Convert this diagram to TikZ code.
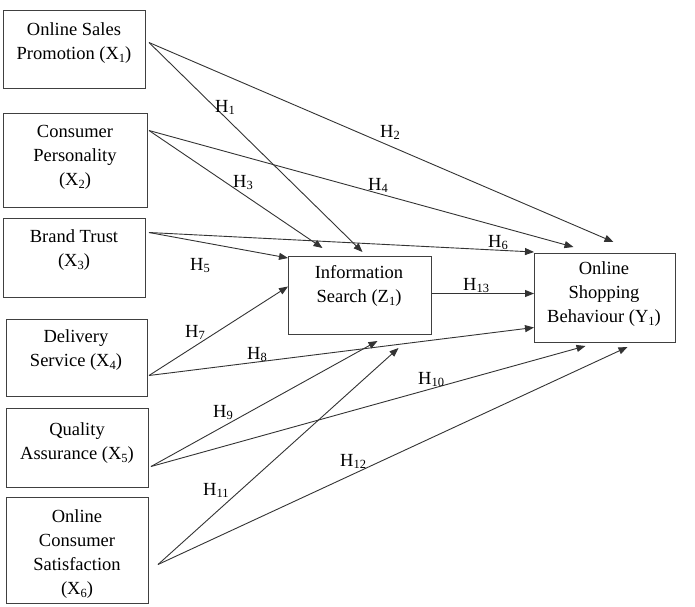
\documentclass[tikz,border=0pt]{standalone}
\usepackage{fontspec}
\setmainfont{Liberation Serif}
\usetikzlibrary{arrows.meta}
\newcommand{\sbs}[1]{\raisebox{-0.35ex}{\fontsize{12.5}{12.5}\selectfont #1}}
\begin{document}
\begin{tikzpicture}[x=1pt,y=-1pt,
  box/.style={draw=black!75,line width=1pt,anchor=north west,inner sep=0pt},
  txt/.style={font=\fontsize{18.5}{24}\selectfont,align=center,inner sep=0pt},
  hyp/.style={font=\fontsize{18.5}{24}\selectfont,inner sep=0pt,anchor=base west},
  arr/.style={draw=black!80,line width=0.9pt,-{Triangle[length=9pt,width=7pt]}}]
\useasboundingbox (0,0) rectangle (695,606);
% boxes
\node[box,minimum width=142pt,minimum height=78pt] (x1) at (3,10) {};
\node[box,minimum width=144pt,minimum height=94pt] (x2) at (3,113) {};
\node[box,minimum width=142pt,minimum height=79pt] (x3) at (3,218) {};
\node[box,minimum width=141pt,minimum height=77pt] (x4) at (6,319) {};
\node[box,minimum width=142pt,minimum height=79pt] (x5) at (6,408) {};
\node[box,minimum width=142pt,minimum height=106pt] (x6) at (6,497) {};
\node[box,minimum width=143pt,minimum height=78pt] (z1) at (288,256) {};
\node[box,minimum width=141pt,minimum height=89pt] (y1) at (534,253) {};
% texts
\node[txt] (x1t) at (74,43) {Online Sales\\Promotion (X\sbs{1})};
\node[txt] (x2t) at (75,157) {Consumer\\Personality\\(X\sbs{2})};
\node[txt] (x3t) at (74,250) {Brand Trust\\(X\sbs{3})};
\node[txt] (x4t) at (76,350) {Delivery\\Service (X\sbs{4})};
\node[txt] (x5t) at (77,443) {Quality\\Assurance (X\sbs{5})};
\node[txt] (x6t) at (77,554) {Online\\Consumer\\Satisfaction\\(X\sbs{6})};
\node[txt] (z1t) at (359,286) {Information\\Search (Z\sbs{1})};
\node[txt] (y1t) at (604,294) {Online\\Shopping\\Behaviour (Y\sbs{1})};
% arrows
\draw[arr] ([xshift=3pt,yshift=7pt]x1.east) -- ([xshift=2.5pt,yshift=4pt]z1.north);
\draw[arr] ([xshift=3pt,yshift=7pt]x1.east) -- ([xshift=8.5pt,yshift=11pt]y1.north);
\draw[arr] ([xshift=1pt,yshift=30pt]x2.east) -- ([xshift=-37.5pt,yshift=8pt]z1.north);
\draw[arr] ([xshift=1pt,yshift=30pt]x2.east) -- ([xshift=-31.5pt,yshift=6pt]y1.north);
\draw[arr] ([xshift=3pt,yshift=25.5pt]x3.east) -- ([yshift=-2pt]z1.north west);
\draw[arr] ([xshift=3pt,yshift=25.5pt]x3.east) -- ([yshift=1pt]y1.north west);
\draw[arr] ([xshift=1pt,yshift=-17.5pt]x4.east) -- ([yshift=9pt]z1.west);
\draw[arr] ([xshift=1pt,yshift=-17.5pt]x4.east) -- ([yshift=-29.5pt]y1.west);
\draw[arr] ([xshift=2pt,yshift=-18.5pt]x5.east) -- ([xshift=17.5pt,yshift=-6pt]z1.south);
\draw[arr] ([xshift=2pt,yshift=-18.5pt]x5.east) -- ([xshift=-19.5pt,yshift=-3pt]y1.south);
\draw[arr] ([xshift=9pt,yshift=-14pt]x6.east) -- ([xshift=38.5pt,yshift=-13pt]z1.south);
\draw[arr] ([xshift=9pt,yshift=-14pt]x6.east) -- ([xshift=22.5pt,yshift=-4pt]y1.south);
\draw[arr] ([yshift=2pt]z1.east) -- ([yshift=4.5pt]y1.west);
% hypothesis labels
\node[hyp] (h1) at (215,112) {H\sbs{1}};
\node[hyp] (h2) at (380,137) {H\sbs{2}};
\node[hyp] (h3) at (233,187) {H\sbs{3}};
\node[hyp] (h4) at (368,190) {H\sbs{4}};
\node[hyp] (h5) at (190,270) {H\sbs{5}};
\node[hyp] (h6) at (488,247) {H\sbs{6}};
\node[hyp] (h7) at (185,337) {H\sbs{7}};
\node[hyp] (h8) at (247,359) {H\sbs{8}};
\node[hyp] (h9) at (213,417) {H\sbs{9}};
\node[hyp] (h10) at (418,384) {H\sbs{10}};
\node[hyp] (h11) at (203,495) {H\sbs{11}};
\node[hyp] (h12) at (340,466) {H\sbs{12}};
\node[hyp] (h13) at (463,290) {H\sbs{13}};
\end{tikzpicture}
\end{document}
